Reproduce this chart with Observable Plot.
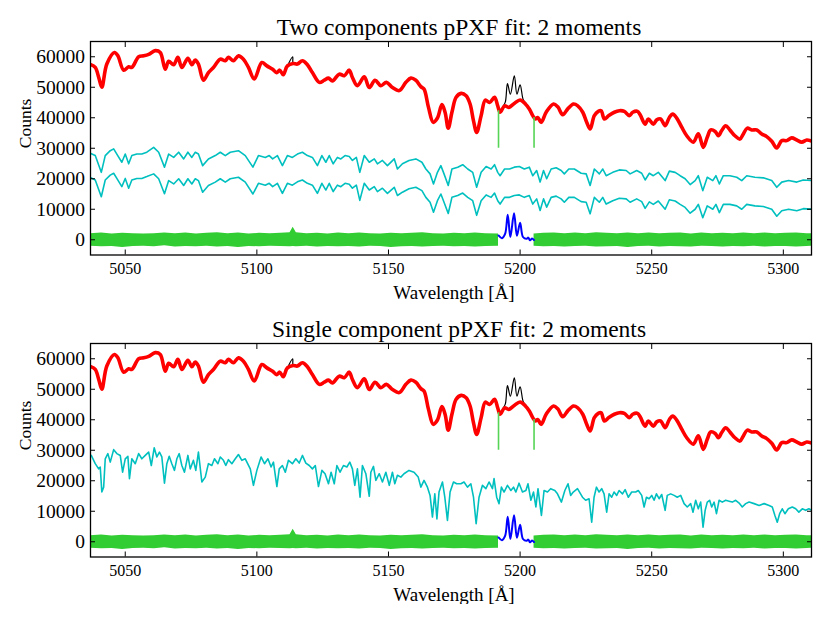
<!DOCTYPE html>
<html>
<head>
<meta charset="utf-8">
<script src="https://cdn.jsdelivr.net/npm/d3@7"></script>
<script src="https://cdn.jsdelivr.net/npm/@observablehq/plot@0.6"></script>
<style>
  html, body { margin: 0; padding: 0; background: #fff; }
  #chart svg { display: block; }
</style>
</head>
<body>
<div id="chart"></div>
<script>
// ---------- data (wavelength in Å, counts) ----------
const xTicks = [5050, 5100, 5150, 5200, 5250, 5300];
const yTicks = [0, 10000, 20000, 30000, 40000, 50000, 60000];
const titles = ["Two components pPXF fit: 2 moments", "Single component pPXF fit: 2 moments"];

// best fit (red)
const fitSpec = [
  [5036.9,57400],[5038.6,56500],[5040.0,53000],[5041.1,50000],[5043.0,57600],[5045.9,61400],[5047.2,60300],
  [5049.4,55600],[5051.3,56700],[5052.5,56500],[5055.1,60000],[5057.0,60300],[5058.9,60800],[5061.4,62000],
  [5063.3,61400],[5065.2,55900],[5066.5,58500],[5068.4,57400],[5070.0,59800],[5071.5,56500],[5073.8,59500],
  [5075.3,57400],[5076.6,58900],[5077.8,57600],[5079.7,52300],[5081.6,54800],[5083.5,56500],[5086.1,59200],
  [5088.0,58700],[5089.2,59800],[5091.1,58700],[5093.0,60300],[5094.9,59200],[5096.8,56500],[5099.0,52700],
  [5101.9,58100],[5103.8,57000],[5106.0,55900],[5107.5,54800],[5108.7,55600],[5110.0,54100],[5111.6,57000],
  [5113.8,57800],[5115.4,57600],[5117.3,58700],[5119.2,57400],[5121.1,54800],[5123.7,51600],[5125.6,52300],
  [5127.2,53000],[5128.7,52100],[5131.3,54300],[5133.2,53800],[5135.1,55600],[5136.3,53200],[5138.2,50500],
  [5140.8,53400],[5142.7,49900],[5144.9,52300],[5147.1,50500],[5149.2,51600],[5151.5,49900],[5154.1,48900],
  [5156.6,51600],[5158.5,53000],[5160.4,52300],[5162.3,50200],[5163.5,49400],[5165.2,43400],[5167.0,38500],
  [5168.6,39900],[5170.3,44300],[5171.5,41800],[5172.7,36600],[5174.1,41800],[5175.7,46700],[5177.6,48000],
  [5179.5,47200],[5181.0,44500],[5182.3,39000],[5183.5,35200],[5185.2,40700],[5186.8,45800],[5188.4,45000],
  [5190.3,46700],[5191.5,43900],[5192.4,41800],[5194.1,43900],[5195.7,43400],[5197.8,44700],[5200.0,45800],
  [5202.0,44500],[5203.5,42900],[5204.8,40700],[5205.8,39600],[5206.7,40100],[5208.0,38500],[5209.9,41800],
  [5212.7,44500],[5214.3,43600],[5216.2,41000],[5218.1,42900],[5220.3,44500],[5221.9,43900],[5223.8,41800],
  [5225.3,38500],[5226.6,36300],[5228.2,40700],[5229.7,42100],[5230.8,42300],[5232.0,39600],[5233.7,40700],
  [5235.8,41800],[5237.7,42300],[5239.6,42100],[5241.5,40700],[5242.8,41800],[5244.6,42100],[5245.6,41000],
  [5247.5,37900],[5248.7,39600],[5250.6,37900],[5251.9,39300],[5253.4,39600],[5255.1,37400],[5256.7,40100],
  [5258.0,41200],[5259.5,39900],[5261.4,36900],[5263.3,34100],[5265.8,32000],[5267.7,34700],[5269.6,30300],
  [5271.1,33600],[5272.4,36000],[5274.1,35500],[5275.3,34100],[5276.6,35800],[5278.1,37400],[5279.7,36000],
  [5281.6,34100],[5283.5,33000],[5284.8,34700],[5286.3,36600],[5288.0,36000],[5289.9,36000],[5291.8,34700],
  [5293.7,33800],[5295.6,32300],[5297.5,30100],[5299.4,32500],[5301.3,32500],[5303.2,33400],[5305.1,32700],
  [5307.0,32000],[5308.9,32700],[5311.1,32200]
];

// galaxy (black) where it departs from the fit: emission lines and a spike
const galaxyExtra = [
  [5113.6,60000],[5193.5,43700],[5194.4,45200],[5195.2,51200],[5196.3,47700],[5197.8,53700],
  [5198.8,47700],[5200.0,50800],[5201.2,45900],[5202.2,44800]
];

// emission residual in the masked window (blue)
const gasSpec = [
  [5191.8,1400],[5193.1,500],[5194.3,1900],[5195.3,8200],[5196.3,900],[5197.7,8700],[5198.8,1300],
  [5200.0,5600],[5201.1,900],[5202.5,300],[5203.1,700],[5203.8,-200],[5204.5,400],[5205.3,-100]
];

// mask boundaries (green vertical lines)
const maskWave = [5191.8, 5205.3];
const maskTop = [42300, 40100];
const maskBottom = [30000, 30000];

// residual band (green), upper/lower envelope
const resWave1 = [5036.8,5041,5045,5049,5053,5057,5061,5065,5069,5073,5077,5081,5085,5089,5093,5097,5101,5105,5109,
  5112.6,5113.8,5115.0,5119,5123,5127,5131,5135,5139,5143,5147,5151,5155,5159,5163,5167,5171,5175,5179,5183,5187,5191.8];
const resHi1 = [2000,2200,1900,2100,2000,1900,2000,2200,2000,2200,1900,2100,2300,2000,2200,1900,2100,2000,2100,
  2300,4100,2300,2000,2100,1900,2200,2000,2200,2000,1900,2100,2000,2100,2300,2000,1900,2100,2000,2200,2000,1900];
const resLo1 = [-2100,-2300,-2200,-2500,-2200,-2100,-2300,-2000,-2400,-2200,-2300,-2100,-2400,-2200,-2500,-2200,-2300,-2100,-2200,
  -2300,-2200,-2300,-2100,-2400,-2200,-2300,-2200,-2400,-2100,-2200,-2500,-2300,-2200,-2400,-2200,-2100,-2300,-2200,-2400,-2200,-2100];
const resWave2 = [5205.3,5209,5213,5217,5221,5225,5229,5233,5237,5241,5245,5249,5253,5257,5261,5265,5269,5273,5277,
  5281,5285,5289,5293,5297,5301,5305,5309,5310.7];
const resHi2 = [1900,2100,2200,2000,2200,2000,2300,2100,2000,2200,2000,2200,2000,2100,2200,1900,2200,2000,2100,
  2000,2200,2000,2200,2000,2100,2200,2000,2000];
const resLo2 = [-2100,-2300,-2200,-2400,-2200,-2100,-2400,-2300,-2200,-2500,-2200,-2100,-2400,-2200,-2300,-2400,-2100,-2200,-2400,
  -2200,-2300,-2100,-2400,-2200,-2200,-2400,-2200,-2100];

// template components (cyan), top panel
const compWave = [
  5036.9,5038.6,5040.9,5042.4,5044.3,5045.6,5046.8,5048.7,5050.0,5051.3,5052.5,5054.4,5056.3,5058.2,5060.8,5062.7,
  5064.9,5066.5,5068.4,5070.3,5072.2,5073.8,5075.3,5076.6,5077.8,5079.4,5081.6,5084.2,5086.1,5088.0,5089.9,5093.0,
  5095.6,5098.5,5100.6,5103.2,5104.7,5106.0,5107.8,5109.7,5111.6,5113.5,5115.4,5117.3,5119.2,5121.1,5123.0,5124.7,
  5126.2,5127.5,5129.0,5130.6,5131.9,5133.5,5135.1,5136.3,5137.8,5139.1,5140.8,5142.7,5144.6,5145.8,5147.7,5149.6,
  5152.2,5153.4,5155.3,5157.8,5160.4,5162.7,5164.2,5165.8,5167.1,5168.6,5169.9,5171.1,5172.7,5174.1,5176.3,5178.2,
  5180.1,5182.0,5183.5,5185.2,5187.1,5189.0,5190.3,5191.5,5192.4,5194.1,5196.0,5197.8,5199.7,5201.6,5203.5,5204.8,
  5206.3,5207.6,5208.9,5210.1,5211.8,5213.7,5215.6,5216.8,5218.5,5220.6,5223.2,5225.1,5226.6,5228.2,5230.1,5231.4,
  5232.7,5235.2,5237.7,5240.3,5241.8,5244.3,5246.2,5247.5,5249.1,5250.6,5252.5,5255.1,5256.7,5258.9,5260.8,5262.7,
  5264.6,5266.5,5267.7,5269.4,5271.1,5273.2,5274.4,5275.7,5277.2,5279.7,5282.3,5284.2,5286.1,5289.2,5292.4,5295.6,
  5297.5,5299.4,5302.0,5305.1,5307.6,5311.1
];
const comp1 = [
  28300,27600,22100,27600,29200,29800,28100,25400,28100,24900,27600,28100,28100,28700,30300,28700,
  23800,28100,27000,28700,26500,28700,27000,28700,28100,24300,26500,27600,28700,27600,28700,29200,
  27600,23800,27600,27000,27600,26500,27600,24300,27600,27000,28100,28700,27600,27000,24300,27600,
  25400,27600,24900,27000,26500,27600,27300,26000,27000,22100,27600,25400,26500,24900,26000,24300,
  26500,23200,24900,26000,26500,25400,23200,21600,18300,22100,24300,21600,17800,23200,23800,24600,
  23200,22100,17200,22100,24000,23200,24600,22100,21000,23200,23200,23800,24000,23200,23800,21000,
  22700,18900,22700,20000,23200,23600,22700,21600,23200,23200,21800,21600,17800,23200,21600,23200,
  21000,22100,22900,22700,21600,22700,21800,19600,21800,21000,22100,19400,22500,22100,21000,20000,
  18100,19400,21000,16100,20500,19400,21000,18300,21000,21000,20500,19400,21000,20500,20300,19400,
  17200,18900,19400,18900,19600,19400
];
const comp2 = [
  20300,19600,14100,19600,21200,21800,20100,17400,20100,16900,19600,20100,20100,20700,21600,20000,
  15100,19400,18300,20000,17800,20000,18300,20000,19400,15600,17800,18900,20000,18900,20000,20500,
  18900,15000,18500,17900,18500,17400,18500,15200,18500,17900,19000,19600,18500,17900,15200,18500,
  16300,18500,15800,17900,17400,18500,18200,16900,17900,12900,18500,16300,17400,15800,16900,15200,
  17200,14500,15600,16700,17200,16100,13900,12300,9000,12800,15000,12300,8600,13900,14500,15300,
  13900,12800,8000,12800,14700,13900,15300,12800,11700,13900,13900,14500,14700,13900,14500,11700,
  13400,9600,13400,10700,13900,14300,13400,12300,13900,13900,12500,12300,8500,13900,12300,13900,
  11700,12800,13600,13400,12300,13400,12500,10300,12400,11600,12700,10000,13100,12700,11600,10600,
  8700,10000,11600,7200,11100,10000,11600,8900,11600,11600,11100,10000,11600,11100,10900,10000,
  7700,9500,10000,9500,10200,10000
];

// single template (cyan), bottom panel
const singleSpec = [
  [5037.1,28300],[5038.6,25600],[5039.9,23900],[5040.5,24500],[5041.1,16300],[5041.8,17900],[5042.4,27200],
  [5043.4,28900],[5044.3,26100],[5045.6,30200],[5046.8,28900],[5048.1,28300],[5049.0,22800],[5050.0,27200],
  [5051.0,28000],[5051.6,20700],[5052.5,27200],[5053.8,25600],[5055.1,28900],[5056.3,27200],[5057.6,28300],
  [5058.9,29400],[5059.9,25000],[5061.0,30800],[5062.0,27800],[5063.0,29400],[5063.9,27800],[5064.9,19200],
  [5065.8,25600],[5066.7,28000],[5067.7,25600],[5068.7,23400],[5069.6,27200],[5070.5,28900],[5071.5,25000],
  [5072.5,22800],[5073.8,28300],[5074.7,23900],[5075.9,26700],[5076.8,23400],[5077.8,29400],[5079.1,19600],
  [5080.4,21200],[5081.6,25600],[5082.9,25000],[5083.9,27200],[5085.2,25600],[5086.1,27800],[5087.3,26700],
  [5088.2,25000],[5089.2,26900],[5090.5,25600],[5091.8,27200],[5093.0,28600],[5094.3,26700],[5095.6,27200],
  [5097.5,23900],[5098.7,18500],[5100.0,23400],[5101.6,27800],[5102.9,25600],[5104.2,27200],[5105.4,24500],
  [5106.3,26100],[5107.6,18100],[5108.5,23900],[5109.7,25000],[5110.8,22800],[5112.0,26700],[5113.5,25600],
  [5114.8,27200],[5116.1,25800],[5117.3,28300],[5118.6,25800],[5119.9,25000],[5121.1,23900],[5122.2,25000],
  [5123.4,18100],[5124.7,23400],[5125.9,22300],[5127.2,19000],[5128.2,22800],[5129.4,19000],[5130.4,25000],
  [5131.6,22800],[5132.9,25000],[5134.2,24500],[5135.3,26100],[5136.3,23900],[5137.2,18500],[5138.2,23900],
  [5139.2,14600],[5140.1,25000],[5141.4,22300],[5142.7,14900],[5143.3,22800],[5144.3,24700],[5145.2,20100],
  [5146.5,22300],[5147.7,19600],[5149.0,22800],[5150.3,18500],[5151.5,22800],[5152.4,19000],[5153.4,21800],
  [5154.7,21200],[5155.9,22300],[5157.8,23400],[5159.7,22800],[5161.3,21200],[5162.3,17900],[5163.5,20100],
  [5164.8,17900],[5165.8,15200],[5166.7,8100],[5167.6,15700],[5168.4,7500],[5169.2,16300],[5170.5,19600],
  [5171.4,14600],[5172.4,7000],[5173.4,16300],[5174.7,19600],[5175.9,19000],[5177.5,19000],[5178.7,19600],
  [5180.0,17900],[5181.3,19000],[5182.3,14600],[5183.3,5900],[5184.4,14600],[5185.7,18500],[5187.0,17400],
  [5188.2,19600],[5189.5,17400],[5190.1,20700],[5191.1,14600],[5192.0,12500],[5192.9,17900],[5193.9,16300],
  [5195.2,18500],[5196.5,16800],[5197.5,17900],[5198.4,16300],[5199.6,19200],[5200.9,16300],[5202.2,16800],
  [5203.0,19000],[5204.1,13600],[5205.1,16300],[5206.0,11400],[5206.8,17400],[5208.1,8600],[5209.1,16800],
  [5210.4,16300],[5211.6,17400],[5213.2,16800],[5214.2,15700],[5215.7,13000],[5217.0,16800],[5218.2,19000],
  [5219.2,15200],[5220.2,16300],[5221.8,17400],[5223.7,14600],[5224.9,13600],[5226.2,14100],[5227.2,6400],
  [5228.1,14600],[5229.0,17900],[5230.0,16300],[5231.0,17400],[5231.9,15700],[5232.9,9700],[5233.8,15700],
  [5234.8,14600],[5235.7,16300],[5236.7,15200],[5237.6,16800],[5238.9,15700],[5239.9,17100],[5241.1,14600],
  [5242.4,16300],[5243.9,16300],[5244.9,16800],[5246.2,15200],[5247.1,11400],[5248.0,14600],[5249.0,14100],
  [5250.0,15200],[5250.9,13600],[5251.8,15700],[5252.8,14100],[5253.8,15500],[5255.1,10300],[5255.9,15200],
  [5257.2,15700],[5258.5,15200],[5259.7,14600],[5261.0,15200],[5262.3,12500],[5263.5,11400],[5264.8,12500],
  [5265.7,9700],[5266.7,13600],[5267.7,10800],[5268.6,13000],[5269.5,4800],[5270.3,10300],[5271.1,13000],
  [5272.0,13600],[5272.8,11400],[5273.7,13000],[5274.6,9200],[5275.6,13600],[5276.8,13000],[5278.1,13600],
  [5279.4,13300],[5280.6,13000],[5281.9,13600],[5283.2,12700],[5284.4,11400],[5285.7,12500],[5287.0,13000],
  [5288.9,12500],[5290.8,11900],[5292.7,12500],[5294.6,11900],[5295.8,11400],[5296.8,8600],[5297.7,6400],
  [5298.6,9200],[5299.6,10800],[5300.6,9200],[5301.9,10800],[5303.4,11400],[5304.7,10800],[5305.9,9700],
  [5307.2,10800],[5308.5,10300],[5309.7,10800],[5311.4,10100]
];

// ---------- tables built from the arrays ----------
const fitRows = fitSpec.map(([w, f]) => ({w, f}));
const galaxyRows = fitSpec
  .filter(([w]) => !(w > 5193 && w < 5202.5))
  .concat(galaxyExtra)
  .sort((a, b) => a[0] - b[0])
  .map(([w, f]) => ({w, f}));
const gasRows = gasSpec.map(([w, f]) => ({w, f}));
const maskRows = maskWave.map((w, i) => ({w, lo: maskBottom[i], hi: maskTop[i]}));
const res1 = resWave1.map((w, i) => ({w, lo: resLo1[i], hi: resHi1[i]}));
const res2 = resWave2.map((w, i) => ({w, lo: resLo2[i], hi: resHi2[i]}));
const c1Rows = compWave.map((w, i) => ({w, f: comp1[i]}));
const c2Rows = compWave.map((w, i) => ({w, f: comp2[i]}));
const singleRows = singleSpec.map(([w, f]) => ({w, f}));

const CYAN = "#00bfbf", GREEN = "#32cd32", MASKGREEN = "#55d455";
const FONT = "'Liberation Serif', 'DejaVu Serif', serif";

function panel(title, templates) {
  return Plot.plot({
    width: 830,
    height: 302,
    marginLeft: 90,
    marginRight: 19,
    marginTop: 41,
    marginBottom: 47.5,
    style: {fontFamily: FONT, fontSize: "16px", background: "#fff", color: "#000", overflow: "visible"},
    x: {domain: [5036.8, 5310.7]},
    y: {domain: [-5000, 65000]},
    marks: [
      Plot.areaY(res1, {x: "w", y1: "lo", y2: "hi", fill: GREEN, clip: true}),
      Plot.areaY(res2, {x: "w", y1: "lo", y2: "hi", fill: GREEN, clip: true}),
      Plot.line(galaxyRows, {x: "w", y: "f", stroke: "#000", strokeWidth: 1.2, curve: "catmull-rom", clip: true}),
      Plot.line(fitRows, {x: "w", y: "f", stroke: "#ff0000", strokeWidth: 3.6, curve: "catmull-rom", clip: true}),
      Plot.ruleX(maskRows, {x: "w", y1: "lo", y2: "hi", stroke: MASKGREEN, strokeWidth: 1.6}),
      ...templates.map(rows => Plot.line(rows, {x: "w", y: "f", stroke: CYAN, strokeWidth: 1.6, strokeLinejoin: "round", clip: true})),
      Plot.line(gasRows, {x: "w", y: "f", stroke: "#0000ff", strokeWidth: 2, curve: "catmull-rom", clip: true}),
      Plot.frame({stroke: "#000", strokeWidth: 1.3}),
      Plot.axisX({anchor: "bottom", ticks: xTicks, tickSize: -5, tickPadding: 12.5, tickFormat: d => String(d), label: null, fontSize: 16}),
      Plot.axisX({anchor: "top", ticks: xTicks, tickSize: -5, tickFormat: () => "", label: null}),
      Plot.axisY({anchor: "left", ticks: yTicks, tickSize: -5, tickPadding: 10.4, tickFormat: d => String(d), label: null, fontSize: 19.5}),
      Plot.axisY({anchor: "right", ticks: yTicks, tickSize: -5, tickFormat: () => "", label: null}),
      Plot.text([title], {frameAnchor: "top", lineAnchor: "bottom", dy: -6.5, dx: 8, fontSize: 23.5, text: d => d}),
      Plot.text(["Wavelength [Å]"], {frameAnchor: "bottom", lineAnchor: "bottom", dy: 43.5, dx: 3, fontSize: 19, text: d => d}),
      Plot.text(["Counts"], {frameAnchor: "left", dx: -65, rotate: -90, fontSize: 17.5, text: d => d})
    ]
  });
}

const chart = document.getElementById("chart");
chart.append(panel(titles[0], [c1Rows, c2Rows]));
chart.append(panel(titles[1], [singleRows]));
</script>
</body>
</html>
